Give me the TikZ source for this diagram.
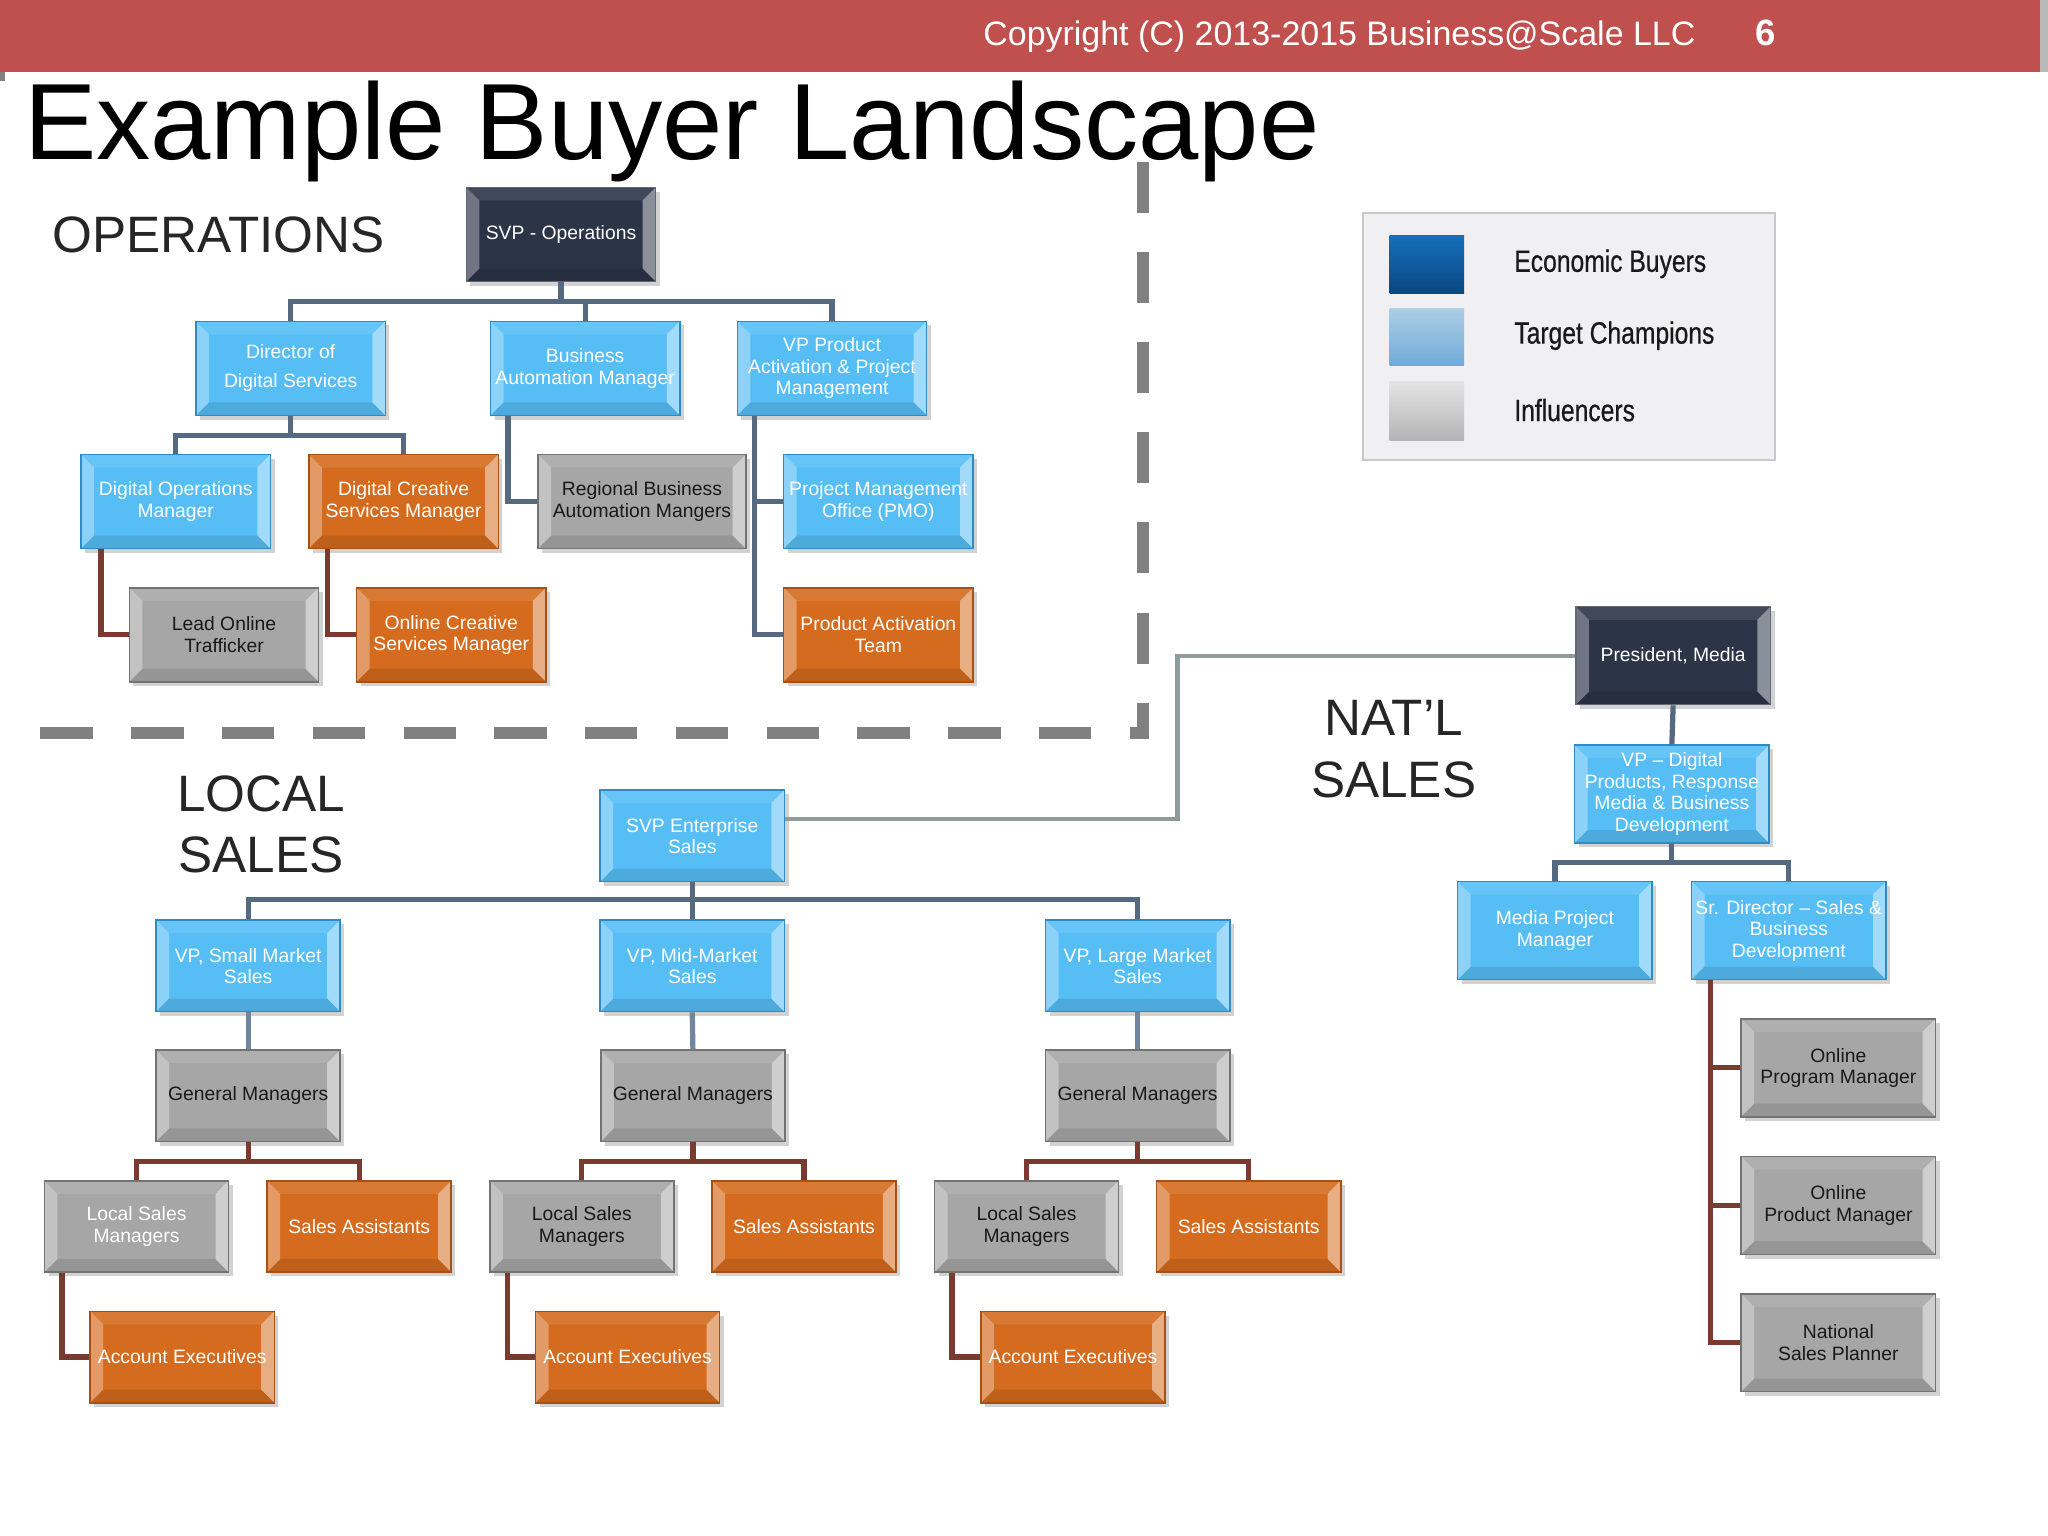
\documentclass[tikz,border=0pt]{standalone}
\usepackage{fontspec}
\setmainfont{Liberation Sans}
\newfontfamily\legendFont[FakeStretch=0.8,FakeBold=0.6]{Liberation Sans}
\usetikzlibrary{shadows}

\tikzset{
  orgBox/.style={draw=#1Draw, fill=#1Fill, line width=0.6pt, inner sep=0pt, align=center,
    minimum width=72.5pt, minimum height=36pt, text=white,
    font=\fontsize{7.4}{8.2}\selectfont,
    drop shadow={shadow xshift=1.6pt, shadow yshift=-1.6pt, opacity=0.35},
    path picture={
      \fill[white,opacity=0.32] (path picture bounding box.north west) -- ++(5pt,-5pt)
        -- ([shift={(5pt,5pt)}]path picture bounding box.south west) -- (path picture bounding box.south west) -- cycle;
      \fill[white,opacity=0.45] (path picture bounding box.north east) -- ++(-5pt,-5pt)
        -- ([shift={(-5pt,5pt)}]path picture bounding box.south east) -- (path picture bounding box.south east) -- cycle;
      \fill[black,opacity=0.10] (path picture bounding box.south west) -- ++(5pt,5pt)
        -- ([shift={(-5pt,5pt)}]path picture bounding box.south east) -- (path picture bounding box.south east) -- cycle;
      \fill[white,opacity=0.10] (path picture bounding box.north west) -- ++(5pt,-5pt)
        -- ([shift={(-5pt,-5pt)}]path picture bounding box.north east) -- (path picture bounding box.north east) -- cycle;
    }},
  navyBox/.style={orgBox=navy},
  blueBox/.style={orgBox=blue},
  orangeBox/.style={orgBox=orange},
  silverBox/.style={orgBox=silver, text=inkColor},
  natBox/.style={minimum width=74.5pt, minimum height=37.5pt},
  localBox/.style={minimum width=70.5pt, minimum height=35pt},
  steelLink/.style={draw=steelColor, line width=2pt},
  paleLink/.style={draw=paleColor, line width=2pt},
  brownLink/.style={draw=brownColor, line width=2pt},
  sageLink/.style={draw=sageColor, line width=1.6pt},
  dividerLine/.style={draw=dashColor, line width=4.5pt},
  sectionLabel/.style={text=headColor, inner sep=0pt, align=center, font=\fontsize{19.6}{23.5}\selectfont},
  legendLabel/.style={anchor=west, inner sep=0pt, text=inkColor, font=\legendFont\fontsize{11.8}{13}\selectfont}
}

\begin{document}
\begin{tikzpicture}[x=0.5pt,y=-0.5pt]
\definecolor{navyFill}{RGB}{44,52,72}
\definecolor{navyDraw}{RGB}{95,105,120}
\definecolor{blueFill}{RGB}{86,190,245}
\definecolor{blueDraw}{RGB}{45,140,200}
\definecolor{orangeFill}{RGB}{213,107,30}
\definecolor{orangeDraw}{RGB}{165,80,20}
\definecolor{silverFill}{RGB}{166,166,166}
\definecolor{silverDraw}{RGB}{115,115,115}
\definecolor{barColor}{RGB}{192,80,77}
\definecolor{steelColor}{RGB}{85,106,128}
\definecolor{paleColor}{RGB}{110,134,158}
\definecolor{brownColor}{RGB}{122,58,48}
\definecolor{sageColor}{RGB}{140,156,152}
\definecolor{dashColor}{RGB}{128,128,128}
\definecolor{headColor}{RGB}{38,38,38}
\definecolor{inkColor}{RGB}{25,25,25}
\definecolor{legendFill}{RGB}{240,240,242}
\definecolor{legendDraw}{RGB}{200,200,200}

\useasboundingbox (0,0) rectangle (1568,1176);
\fill[white] (0,0) rectangle (1568,1176);

% header bar
\fill[barColor] (0,0) rectangle (1562,55);
\fill[gray!55] (1562,0) rectangle (1568,55);
\fill[gray] (0,55) rectangle (4,62);
\node[anchor=base, text=white, inner sep=0pt, font=\fontsize{13}{15}\selectfont] (copyText) at (1025.5,34.5) {Copyright (C) 2013-2015 Business@Scale LLC};
\node[anchor=base, text=white, inner sep=0pt, font=\bfseries\fontsize{14}{16}\selectfont] (pageNum) at (1352,34.5) {6};

% title
\node[anchor=base west, inner sep=0pt, font=\fontsize{41.5}{45}\selectfont] (title) at (18,122) {Example Buyer Landscape};

% dashed divider
\draw[dividerLine, dash pattern=on 20pt off 14.75pt] (31,561) -- (880,561);
\draw[dividerLine, dash pattern=on 19.5pt off 15pt] (875,124) -- (875,566);

% section labels
\node[sectionLabel, anchor=base west] (opsLabel) at (40,193.5) {OPERATIONS};
\node[sectionLabel] (localLabel) at (200,631) {LOCAL\\SALES};
\node[sectionLabel] (natLabel) at (1067,573.5) {NAT’L\\SALES};

% legend
\draw[fill=legendFill, draw=legendDraw, line width=0.8pt] (1043.5,163) rectangle (1359,352);
\shade[top color={rgb,255:red,22;green,112;blue,186}, bottom color={rgb,255:red,10;green,70;blue,130}] (1064,180) rectangle (1121,225);
\shade[top color={rgb,255:red,172;green,206;blue,230}, bottom color={rgb,255:red,112;green,170;blue,214}] (1064,236) rectangle (1121,280);
\shade[top color={rgb,255:red,228;green,228;blue,228}, bottom color={rgb,255:red,180;green,180;blue,180}] (1064,292) rectangle (1121,337);
\node[legendLabel] (econLabel) at (1159,202) {Economic Buyers};
\node[legendLabel] (champLabel) at (1159,257) {Target Champions};
\node[legendLabel] (inflLabel) at (1159,314) {Influencers};

% operations
\node[navyBox] (svpOps) at (429.5,179.5) {SVP - Operations};
\node[blueBox] (dirDig) at (222.5,282) {Director of\\[3pt]Digital Services};
\node[blueBox] (busAuto) at (448,282) {Business\\Automation Manager};
\node[blueBox] (vpProd) at (637,282) {VP Product\\Activation \& Project\\Management};
\node[blueBox] (digOps) at (134.5,384) {Digital Operations\\Manager};
\node[orangeBox] (digCre) at (309,384) {Digital Creative\\Services Manager};
\node[silverBox, minimum width=79.5pt] (regBus) at (491.5,384) {Regional Business\\Automation Mangers};
\node[blueBox] (pmo) at (672.5,384) {Project Management\\Office (PMO)};
\node[silverBox] (leadOnl) at (171.5,486) {Lead Online\\Trafficker};
\node[orangeBox] (onlCre) at (345.5,486) {Online Creative\\Services Manager};
\node[orangeBox] (prodAct) at (672.5,486) {Product Activation\\Team};

\draw[steelLink] (svpOps.south) -- ++(0,15) coordinate (opsBus);
\draw[steelLink] (dirDig.north) |- (opsBus) -| (vpProd.north);
\draw[steelLink] (busAuto.north) -- (busAuto.north |- opsBus);
\draw[steelLink] (dirDig.south) -- ++(0,15) coordinate (dirBus);
\draw[steelLink] (digOps.north) |- (dirBus) -| (digCre.north);
\draw[steelLink] ([xshift=7pt]busAuto.south west) |- (regBus.west);
\draw[steelLink] ([xshift=7pt]vpProd.south west) |- (pmo.west);
\draw[steelLink] ([xshift=7pt]vpProd.south west) |- (prodAct.west);
\draw[brownLink] ([xshift=8pt]digOps.south west) |- (leadOnl.west);
\draw[brownLink] ([xshift=7.5pt]digCre.south west) |- (onlCre.west);

% national sales
\node[navyBox, natBox] (pres) at (1281,502) {President, Media};
\node[blueBox, natBox] (vpDig) at (1280,608) {VP – Digital\\Products, Response\\Media \& Business\\Development};
\node[blueBox, natBox] (mediaPm) at (1190.5,712.5) {Media Project\\Manager};
\node[blueBox, natBox] (srDir) at (1369.5,712.5) {Sr. Director – Sales \&\\Business\\Development};
\node[silverBox, natBox] (onlProg) at (1407.5,817.5) {Online\\Program Manager};
\node[silverBox, natBox] (onlProd) at (1407.5,923) {Online\\Product Manager};
\node[silverBox, natBox] (natPlan) at (1407.5,1028) {National\\Sales Planner};

\draw[steelLink] (pres.south) -- (vpDig.north);
\draw[steelLink] (vpDig.south) -- ++(0,14.5) coordinate (natBus);
\draw[steelLink] (mediaPm.north) |- (natBus) -| (srDir.north);
\draw[brownLink] ([xshift=7.5pt]srDir.south west) |- (onlProg.west);
\draw[brownLink] ([xshift=7.5pt]srDir.south west) |- (onlProd.west);
\draw[brownLink] ([xshift=7.5pt]srDir.south west) |- (natPlan.west);

% local sales
\node[blueBox, localBox] (svpEnt) at (530,640) {SVP Enterprise\\Sales};
\node[blueBox, localBox] (vpSmall) at (190,739.5) {VP, Small Market\\Sales};
\node[blueBox, localBox] (vpMid) at (530,739.5) {VP, Mid-Market\\Sales};
\node[blueBox, localBox] (vpLarge) at (871,739.5) {VP, Large Market\\Sales};
\node[silverBox, localBox] (gmSmall) at (190,839) {General Managers};
\node[silverBox, localBox] (gmMid) at (530.5,839) {General Managers};
\node[silverBox, localBox] (gmLarge) at (871,839) {General Managers};
\node[silverBox, localBox, text=white] (lsmSmall) at (104.5,939) {Local Sales\\Managers};
\node[orangeBox, localBox] (saSmall) at (275,939) {Sales Assistants};
\node[silverBox, localBox] (lsmMid) at (445.5,939) {Local Sales\\Managers};
\node[orangeBox, localBox] (saMid) at (615.5,939) {Sales Assistants};
\node[silverBox, localBox] (lsmLarge) at (786,939) {Local Sales\\Managers};
\node[orangeBox, localBox] (saLarge) at (956,939) {Sales Assistants};
\node[orangeBox, localBox] (aeSmall) at (139.5,1039) {Account Executives};
\node[orangeBox, localBox] (aeMid) at (480.5,1039) {Account Executives};
\node[orangeBox, localBox] (aeLarge) at (821.5,1039) {Account Executives};

\draw[sageLink] (pres.west) -| (901.5,580) |- ([yshift=6.5pt]svpEnt.east);
\draw[steelLink] (svpEnt.south) -- ++(0,13) coordinate (entBus);
\draw[steelLink] (vpSmall.north) |- (entBus) -| (vpLarge.north);
\draw[steelLink] (vpMid.north) -- (entBus);
\draw[paleLink] (vpSmall.south) -- (gmSmall.north);
\draw[paleLink] (vpMid.south) -- (gmMid.north);
\draw[paleLink] (vpLarge.south) -- (gmLarge.north);
\draw[brownLink] (gmSmall.south) -- ++(0,14.5) coordinate (gmBusSmall);
\draw[brownLink] (lsmSmall.north) |- (gmBusSmall) -| (saSmall.north);
\draw[brownLink] (gmMid.south) -- ++(0,14.5) coordinate (gmBusMid);
\draw[brownLink] (lsmMid.north) |- (gmBusMid) -| (saMid.north);
\draw[brownLink] (gmLarge.south) -- ++(0,14.5) coordinate (gmBusLarge);
\draw[brownLink] (lsmLarge.north) |- (gmBusLarge) -| (saLarge.north);
\draw[brownLink] ([xshift=7pt]lsmSmall.south west) |- (aeSmall.west);
\draw[brownLink] ([xshift=7pt]lsmMid.south west) |- (aeMid.west);
\draw[brownLink] ([xshift=7pt]lsmLarge.south west) |- (aeLarge.west);
\end{tikzpicture}
\end{document}
